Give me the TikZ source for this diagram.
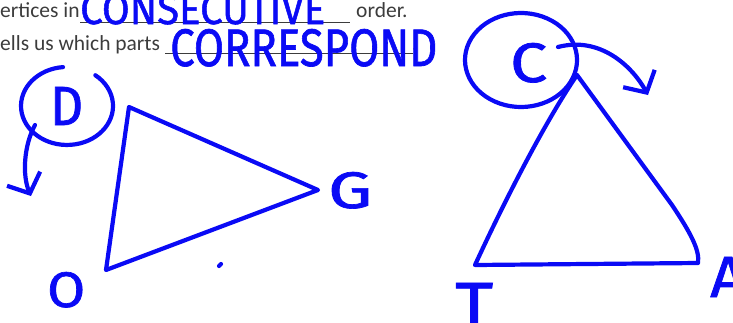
\documentclass[tikz,border=0pt]{standalone}
\usepackage{fontspec}
\setmainfont{Carlito}
\newfontfamily\handfont[FakeBold=1.3]{Fira Sans}
\usetikzlibrary{arrows.meta}
\definecolor{ink}{RGB}{10,10,245}
\definecolor{typed}{RGB}{60,60,60}
\tikzset{
 pen/.style={draw=ink, line width=4.2pt, line cap=round, line join=round},
 hand/.style={text=ink, inner sep=0pt, anchor=base west, font=\handfont},
 typedtext/.style={text=typed, inner sep=0pt, anchor=base west, font=\fontsize{21.5}{25}\selectfont},
 rulel/.style={draw=typed, line width=1.3pt},
 barb/.style={-{Straight Barb[length=16pt,width=36pt]}}
}
\newcommand{\hw}[3]{\resizebox{#1pt}{#2pt}{#3}}
\begin{document}
\begin{tikzpicture}[x=1pt,y=-1pt]
\useasboundingbox (0,0) rectangle (733,322);
\clip (0,0) rectangle (733,322);
% typed text
\node[typedtext] (t1) at (0,17.5) {ertices in};
\node[typedtext] (t2) at (356,17.5) {order.};
\node[typedtext] (t3) at (0,50) {ells us which parts};
\node[typedtext] (t4) at (412,50) {.};
\coordinate (u1a) at (80,22.5); \coordinate (u1b) at (350,22.5);
\coordinate (u2a) at (165,53.5); \coordinate (u2b) at (413,53.5);
\draw[rulel] (u1a) -- (u1b);
\draw[rulel] (u2a) -- (u2b);
% handwritten words
\node[hand] (w1) at (80,24) {\hw{245}{30}{CONSECUTIVE}};
\node[hand] (w2) at (170,66) {\hw{267}{37}{CORRESPOND}};
% left triangle
\coordinate (D1) at (129,107);
\coordinate (G1) at (318,190);
\coordinate (O1) at (106,270);
\draw[pen] (D1) -- (G1) -- (O1) -- cycle;
\node[hand] (lD) at (50,125) {\hw{33}{38}{D}};
\node[hand] (lG) at (328,208) {\hw{44}{36}{G}};
\node[hand] (lO) at (47,307) {\hw{38}{35}{O}};
\draw[pen] (63,67.1) arc[start angle=-95, end angle=-412, x radius=46, y radius=39];
\coordinate (la1) at (35,125);
\coordinate (la2) at (31,196);
\draw[pen, barb] (la1) .. controls (24,145) and (22,175) .. (la2);
\coordinate (dot1) at (219,266); \coordinate (dot2) at (221,264);
\draw[pen] (dot1) -- (dot2);
% right triangle
\coordinate (C1) at (577,75);
\coordinate (T1) at (475,265);
\coordinate (A1) at (698,263);
\coordinate (Ab) at (672,205);
\draw[pen] (C1) .. controls (545,122) and (505,200) .. (T1) -- (A1)
  .. controls (700,250) and (690,232) .. (Ab) -- (C1);
\node[hand] (lC) at (510,82) {\hw{37}{39}{C}};
\node[hand] (lT) at (455,328) {\hw{38}{45}{T}};
\node[hand] (lA) at (710,297) {\hw{36}{40}{A}};
\draw[pen] (547.3,18.5) arc[start angle=-62, end angle=-462, x radius=56, y radius=47];
\coordinate (ra1) at (558,47);
\coordinate (ra2) at (648,95);
\draw[pen, barb] (ra1) .. controls (600,36) and (632,66) .. (ra2);
\end{tikzpicture}
\end{document}
